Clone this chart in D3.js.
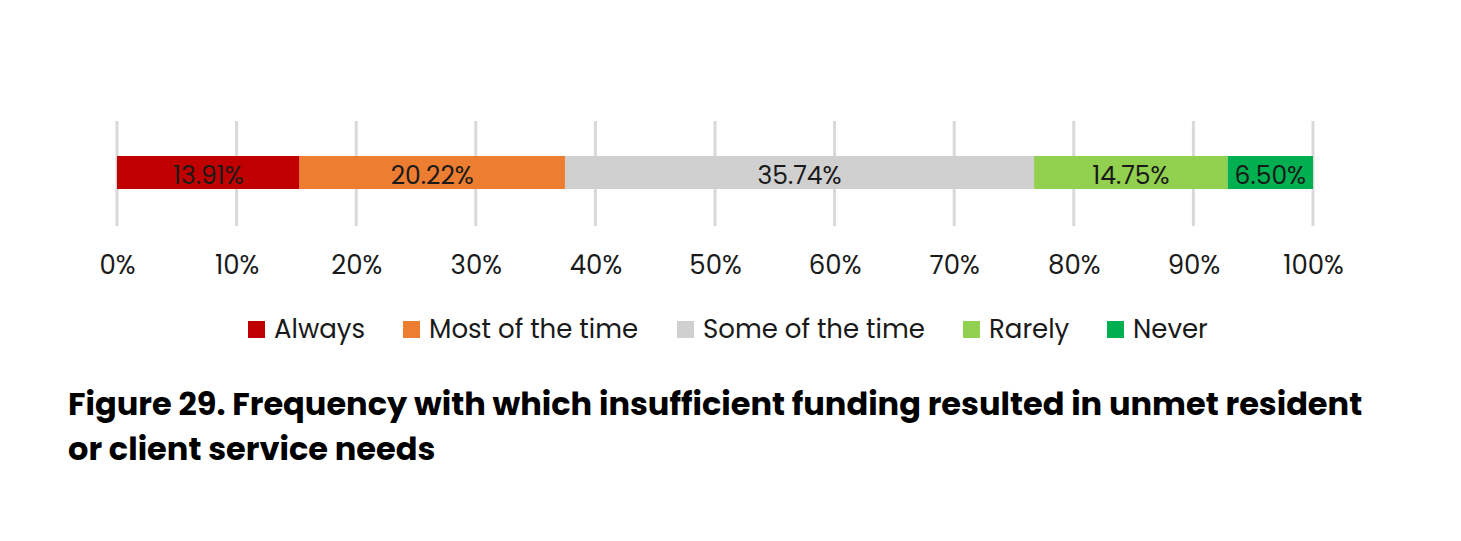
<!DOCTYPE html>
<html>
<head>
<meta charset="utf-8">
<script src="https://cdn.jsdelivr.net/npm/d3@7"></script>
<style>
  body { margin: 0; background: #fff; }
  text { font-family: "Poppins", "Inter", "Noto Sans", sans-serif; }
</style>
</head>
<body>
<div id="chart"></div>
<script>
// Data
var categories = ["Always", "Most of the time", "Some of the time", "Rarely", "Never"];
var values = [13.91, 20.22, 35.74, 14.75, 6.50];
var colors = ["#c00000", "#ed7d31", "#d0d0d0", "#92d050", "#00b050"];
var tickValues = [0, 10, 20, 30, 40, 50, 60, 70, 80, 90, 100];
var titleLines = [
    "Figure 29. Frequency with which insufficient funding resulted in unmet resident",
    "or client service needs"
];

var width = 1461, height = 541;
var svg = d3.select("#chart")
    .append("svg")
        .attr("width", width)
        .attr("height", height);

// scales: bars are normalized to 100%
var total = d3.sum(values);
var xScale = d3.scaleLinear()
    .domain([0, 100])
    .range([117, 1313]);

// gridlines
svg.append("g")
    .selectAll("line")
    .data(tickValues)
    .enter()
    .append("line")
        .attr("x1", d => xScale(d))
        .attr("x2", d => xScale(d))
        .attr("y1", 121)
        .attr("y2", 226)
        .attr("stroke", "#d9d9d9")
        .attr("stroke-width", 3);

// stacked segments
var stacked = [];
var acc = 0;
values.forEach(function(v, i) {
    var pct = v / total * 100;
    stacked.push({cat: categories[i], value: v, x0: acc, x1: acc + pct, color: colors[i]});
    acc += pct;
});

svg.append("g")
    .selectAll("rect")
    .data(stacked)
    .enter()
    .append("rect")
        .attr("x", d => xScale(d.x0))
        .attr("y", 156)
        .attr("width", d => xScale(d.x1) - xScale(d.x0))
        .attr("height", 33)
        .attr("fill", d => d.color);

svg.append("g")
    .selectAll("text")
    .data(stacked)
    .enter()
    .append("text")
        .text(d => d.value.toFixed(2) + "%")
        .attr("x", d => (xScale(d.x0) + xScale(d.x1)) / 2)
        .attr("y", 184)
        .attr("font-size", "25px")
        .attr("fill", "#1a1a1a")
        .attr("text-anchor", "middle");

// axis tick labels
var axis = d3.axisBottom(xScale)
    .tickValues(tickValues)
    .tickFormat(d => d + "%")
    .tickSize(0)
    .tickPadding(0);

var axisG = svg.append("g")
    .attr("transform", "translate(0,256)")
    .call(axis);
axisG.select(".domain").remove();
axisG.selectAll("text")
    .attr("font-size", "26px")
    .attr("font-family", "Poppins, Inter, 'Noto Sans', sans-serif")
    .attr("fill", "#1a1a1a");

// legend
var legendX = [248, 403, 677, 963, 1107];
var legend = svg.append("g")
    .selectAll("g")
    .data(categories)
    .enter()
    .append("g")
        .attr("transform", (d, i) => "translate(" + legendX[i] + ",321)");
legend.append("rect")
    .attr("width", 17)
    .attr("height", 17)
    .attr("fill", (d, i) => colors[i]);
legend.append("text")
    .attr("x", 26)
    .attr("y", 17)
    .attr("font-size", "26px")
    .attr("fill", "#1a1a1a")
    .text(d => d);

// title
svg.append("g")
    .selectAll("text")
    .data(titleLines)
    .enter()
    .append("text")
        .attr("x", 68)
        .attr("y", (d, i) => 415 + i * 45)
        .attr("font-size", "32px")
        .attr("font-weight", "bold")
        .attr("fill", "#000")
        .text(d => d);
</script>
</body>
</html>
